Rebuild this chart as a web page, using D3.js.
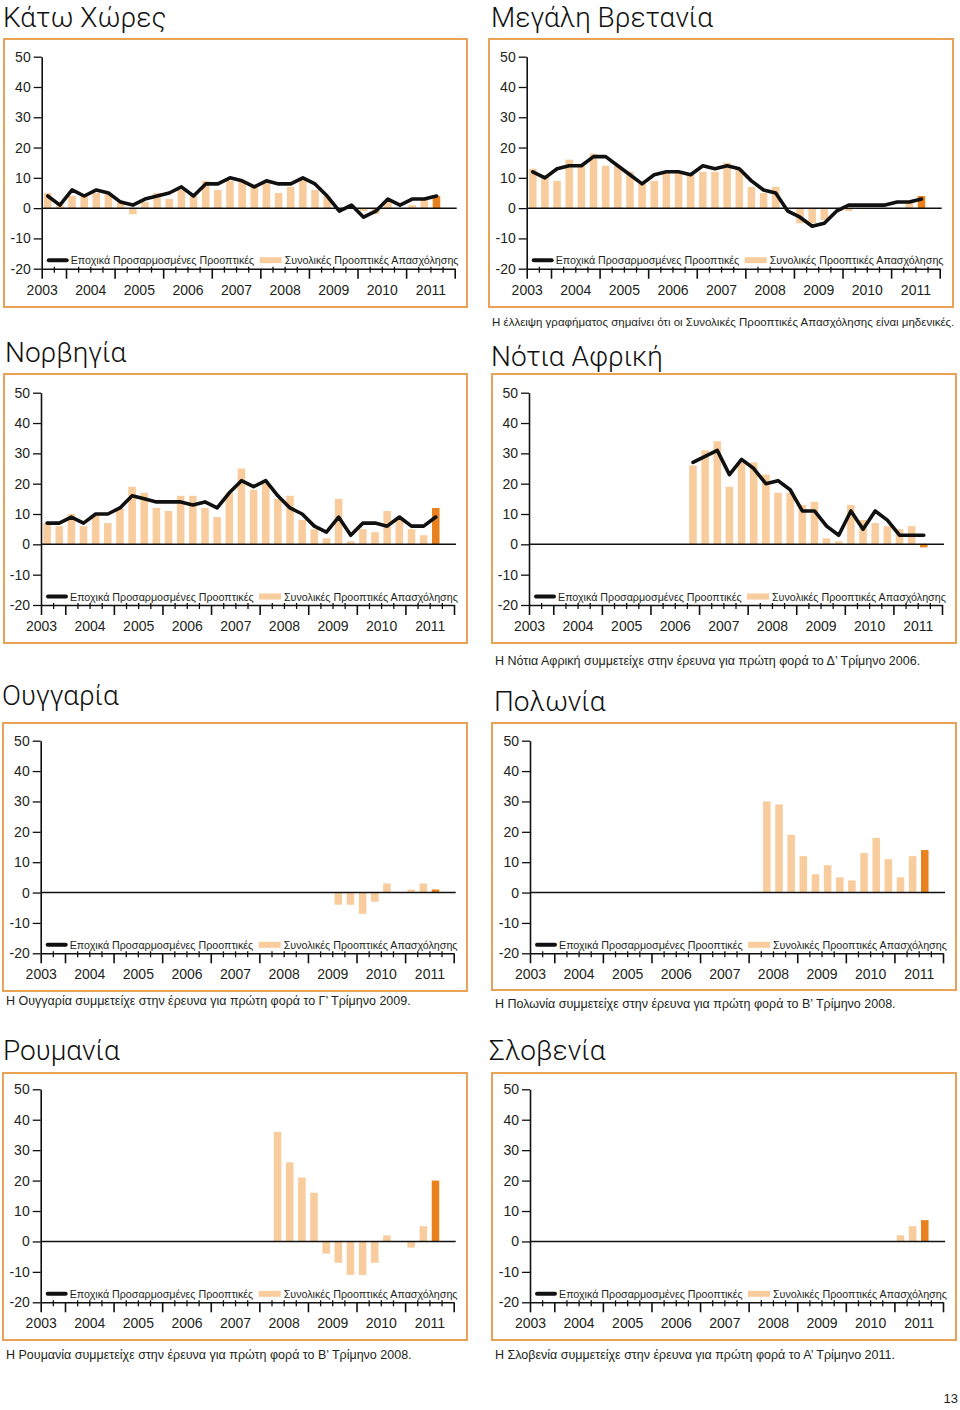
<!DOCTYPE html>
<html><head><meta charset="utf-8">
<script src="https://cdn.jsdelivr.net/npm/d3@7"></script>
<style>
body{margin:0;background:#fff;}
svg{display:block;}
text{font-family:"Liberation Sans",Arial,sans-serif;fill:#231f20;}
.title{font-family:Roboto,"Liberation Sans",sans-serif;font-weight:300;font-size:28px;fill:#111;}
.tick text{font-size:14px;}
.leg{font-size:10.7px;}
.note{font-size:12.5px;}
.note.long{font-size:11.5px;}
</style></head><body>
<svg id="c" width="960" height="1410"></svg>
<script>
// ---- categories / tick labels ----
const quarters = ["2003Q3","2003Q4",
 "2004Q1","2004Q2","2004Q3","2004Q4",
 "2005Q1","2005Q2","2005Q3","2005Q4",
 "2006Q1","2006Q2","2006Q3","2006Q4",
 "2007Q1","2007Q2","2007Q3","2007Q4",
 "2008Q1","2008Q2","2008Q3","2008Q4",
 "2009Q1","2009Q2","2009Q3","2009Q4",
 "2010Q1","2010Q2","2010Q3","2010Q4",
 "2011Q1","2011Q2","2011Q3","2011Q4"];
const years = ["2003","2004","2005","2006","2007","2008","2009","2010","2011"];
const yTicks = [-20,-10,0,10,20,30,40,50];
const currentQuarter = "2011Q3";
const legendLine = "Εποχικά Προσαρμοσμένες Προοπτικές";
const legendBar = "Συνολικές Προοπτικές Απασχόλησης";

// ---- series (values start at the given quarter) ----
const nlStart = "2003Q3";
const nlTotal    = [5,1,4,4,5,5,2,-2,2,5, 3,6,4,9,6,9,9,7,9,5, 7,10,6,4,0,1,-1,-2,2,0, 1,3,4];
const nlSeasonal = [4,1,6,4,6,5,2,1,3,4, 5,7,4,8,8,10,9,7,9,8, 8,10,8,4,-1,1,-3,-1,3,1, 3,3,4];
const ukStart = "2003Q3";
const ukTotal    = [13,11,9,16,14,18,14,14,12,8, 9,12,12,11,12,12,15,13,7,5, 7,0,-5,-5,-4,0,-1,0,0,0, 0,2,4];
const ukSeasonal = [12,10,13,14,14,17,17,14,11,8, 11,12,12,11,14,13,14,13,9,6, 5,-1,-3,-6,-5,-1,1,1,1,1, 2,2,3];
const noStart = "2003Q3";
const noTotal    = [7,6,10,6,10,7,12,19,17,12, 11,16,16,12,9,17,25,18,20,15, 16,8,5,2,15,1,5,4,11,8, 5,3,12];
const noSeasonal = [7,7,9,7,10,10,12,16,15,14, 14,14,13,14,12,17,21,19,21,16, 12,10,6,4,9,3,7,7,6,9, 6,6,9];
const zaStart = "2006Q4";
const zaTotal    = [26,31,34,19,27,27,23,17,17,13,14,2,1,13,8,7,6,5,6,-1];
const zaSeasonal = [27,29,31,23,28,25,20,21,18,11,11,6,3,11,5,11,8,3,3,3];
const huStart = "2009Q3";
const huTotal    = [-4,-4,-7,-3,3,0,1,3,1];
const plStart = "2008Q2";
const plTotal    = [30,29,19,12,6,9,5,4,13,18,11,5,12,14];
const roStart = "2008Q2";
const roTotal    = [36,26,21,16,-4,-7,-11,-11,-7,2,0,-2,5,20];
const siStart = "2011Q1";
const siTotal    = [2,5,7];

// ---- notes / titles ----
const titles = ["Κάτω Χώρες","Μεγάλη Βρετανία","Νορβηγία","Νότια Αφρική","Ουγγαρία","Πολωνία","Ρουμανία","Σλοβενία"];
const notes = [null,
 "Η έλλειψη γραφήματος σημαίνει ότι οι Συνολικές Προοπτικές Απασχόλησης είναι μηδενικές.",
 null,
 "Η Νότια Αφρική συμμετείχε στην έρευνα για πρώτη φορά το Δ’ Τρίμηνο 2006.",
 "Η Ουγγαρία συμμετείχε στην έρευνα για πρώτη φορά το Γ’ Τρίμηνο 2009.",
 "Η Πολωνία συμμετείχε στην έρευνα για πρώτη φορά το Β’ Τρίμηνο 2008.",
 "Η Ρουμανία συμμετείχε στην έρευνα για πρώτη φορά το Β’ Τρίμηνο 2008.",
 "Η Σλοβενία συμμετείχε στην έρευνα για πρώτη φορά το Α’ Τρίμηνο 2011."];

// ---- layout ----
const PEACH = "#f8cc9c", ORANGE = "#e9811f", BORDER = "#eaa256", INK = "#111";
const AXIS_W = 413;
const panels = [
 {t:0, tx:3,   ty:27,   box:[4,39,463,268],   ax:41.7,  yTop:56.7,   yBot:268.7,  total:nlTotal, start:nlStart, seasonal:nlSeasonal},
 {t:1, tx:491, ty:27,   box:[489,39,464,268], ax:526.7, yTop:56.7,   yBot:268.7,  total:ukTotal, start:ukStart, seasonal:ukSeasonal, ny:326, long:true},
 {t:2, tx:5,   ty:362,  box:[4,374,463,269],  ax:41,    yTop:392.7,  yBot:605,    total:noTotal, start:noStart, seasonal:noSeasonal},
 {t:3, tx:491, ty:366,  box:[492,374,464,269],ax:529,   yTop:392.7,  yBot:605,    total:zaTotal, start:zaStart, seasonal:zaSeasonal, ny:665},
 {t:4, tx:2,   ty:705,  box:[3,723,464,268],  ax:40.7,  yTop:740.7,  yBot:953.3,  total:huTotal, start:huStart, ny:1005},
 {t:5, tx:494, ty:711,  box:[492,723,464,267],ax:530,   yTop:740.7,  yBot:953.3,  total:plTotal, start:plStart, ny:1008},
 {t:6, tx:3,   ty:1060, box:[3,1073,464,267], ax:40.7,  yTop:1089.3, yBot:1302.3, total:roTotal, start:roStart, ny:1359},
 {t:7, tx:489, ty:1060, box:[492,1073,464,267],ax:530,  yTop:1089.3, yBot:1302.3, total:siTotal, start:siStart, ny:1359}
];

const svg = d3.select("#c");

function drawPanel(p){
  const g = svg.append("g");
  g.append("rect").attr("x",p.box[0]).attr("y",p.box[1]).attr("width",p.box[2]).attr("height",p.box[3])
    .attr("fill","none").attr("stroke",BORDER).attr("stroke-width",2);
  g.append("text").attr("class","title").attr("x",p.tx).attr("y",p.ty).text(titles[p.t]);

  const x = d3.scaleBand().domain(quarters).range([p.ax,p.ax+AXIS_W]).paddingInner(0.38).paddingOuter(0.19);
  const xt = d3.scaleLinear().domain([0,quarters.length]).range([p.ax,p.ax+AXIS_W]);
  const y = d3.scaleLinear().domain([-20,50]).range([p.yBot,p.yTop]);
  const s0 = quarters.indexOf(p.start);
  const bars = p.total.map((v,i)=>({q:quarters[s0+i],v}));

  g.append("g").selectAll("rect").data(bars.filter(d=>d.v!==0)).join("rect")
    .attr("x",d=>x(d.q)).attr("width",x.bandwidth())
    .attr("y",d=>y(Math.max(0,d.v))).attr("height",d=>Math.abs(y(d.v)-y(0)))
    .attr("fill",d=>d.q===currentQuarter?ORANGE:PEACH);

  // zero line
  g.append("line").attr("x1",p.ax).attr("x2",p.ax+AXIS_W+2).attr("y1",y(0)).attr("y2",y(0))
    .attr("stroke",INK).attr("stroke-width",1.5);

  if(p.seasonal){
    const pts = p.seasonal.map((v,i)=>({q:quarters[s0+i],v}));
    const line = d3.line().x(d=>x(d.q)+x.bandwidth()/2).y(d=>y(d.v));
    g.append("path").attr("d",line(pts)).attr("fill","none").attr("stroke",INK)
      .attr("stroke-width",3.6).attr("stroke-linejoin","round").attr("stroke-linecap","round");
  }

  // y axis
  const ya = g.append("g").attr("transform",`translate(${p.ax},0)`)
    .call(d3.axisLeft(y).tickValues(yTicks).tickSize(8).tickSizeOuter(0).tickPadding(3).tickFormat(d=>String(d)));
  ya.select(".domain").attr("stroke",INK).attr("stroke-width",1.6);
  ya.selectAll(".tick line").attr("stroke",INK).attr("stroke-width",1.3);
  ya.selectAll(".tick text").attr("fill","#231f20");

  // x axis: minor (quarter) and major (year) ticks
  const bounds = d3.range(0,quarters.length+1);
  const isMajor = k => k===0 || quarters[k]===undefined || quarters[k].endsWith("Q1");
  const xa = g.append("g").attr("transform",`translate(0,${p.yBot})`);
  xa.call(d3.axisBottom(xt).tickValues(bounds.filter(isMajor)).tickSize(10).tickSizeOuter(0).tickFormat(""));
  xa.select(".domain").attr("stroke",INK).attr("stroke-width",1.6);
  xa.selectAll(".tick line").attr("stroke",INK).attr("stroke-width",1.6);
  const xm = g.append("g").attr("transform",`translate(0,${p.yBot-2})`);
  xm.call(d3.axisBottom(xt).tickValues(bounds.filter(k=>!isMajor(k))).tickSize(6).tickFormat(""));
  xm.select(".domain").remove();
  xm.selectAll(".tick line").attr("stroke",INK).attr("stroke-width",1.3);
  // year labels centred on each year
  const yearPos = d3.scaleLinear().domain([2003,2011]).range([xt(0),xt(32)]);
  const xl = g.append("g").attr("transform",`translate(0,${p.yBot+16})`);
  xl.call(d3.axisBottom(yearPos).tickValues(years.map(Number)).tickSize(0).tickPadding(0).tickFormat(d=>String(d)));
  xl.select(".domain").remove();
  xl.selectAll(".tick text").attr("fill","#231f20");

  // legend
  const ly = p.yBot-8.5;
  g.append("line").attr("x1",p.ax+7).attr("x2",p.ax+25).attr("y1",ly).attr("y2",ly)
    .attr("stroke",INK).attr("stroke-width",4).attr("stroke-linecap","round");
  g.append("text").attr("class","leg").attr("x",p.ax+29).attr("y",ly+4).text(legendLine);
  g.append("rect").attr("x",p.ax+218).attr("y",ly-3).attr("width",22).attr("height",6).attr("fill",PEACH);
  g.append("text").attr("class","leg").attr("x",p.ax+243).attr("y",ly+4).text(legendBar);

  if(notes[p.t]){
    g.append("text").attr("class",p.long?"note long":"note").attr("x",p.box[0]+3).attr("y",p.ny).text(notes[p.t]);
  }
}
panels.forEach(drawPanel);

svg.append("text").attr("x",958).attr("y",1403).attr("text-anchor","end").attr("font-size",13).text("13");
</script>
</body></html>
